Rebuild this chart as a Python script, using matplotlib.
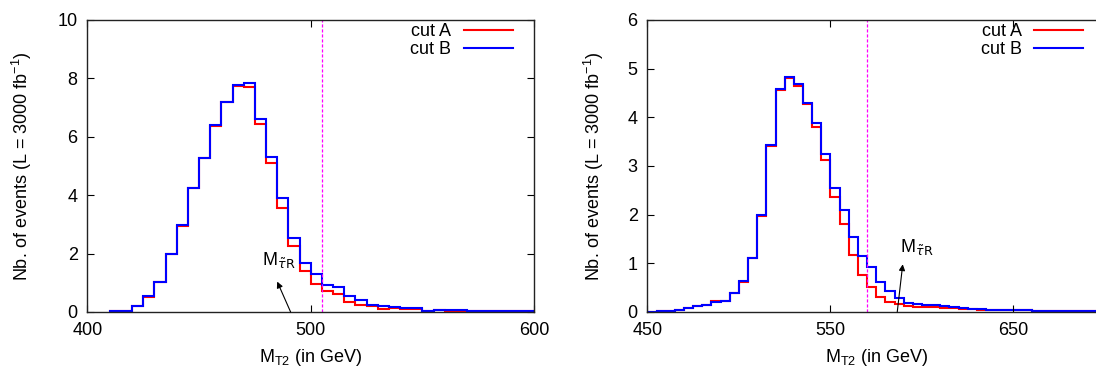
import numpy as np
import matplotlib
matplotlib.use("Agg")
import matplotlib.pyplot as plt

plt.rcParams['font.family'] = ['Liberation Sans', 'DejaVu Sans']
plt.rcParams['mathtext.fontset'] = 'custom'
plt.rcParams['mathtext.rm'] = 'Liberation Sans'
plt.rcParams['mathtext.it'] = 'Liberation Sans:italic'
plt.rcParams['mathtext.sf'] = 'Liberation Sans'

# left panel: M_T2 bins of 5 GeV from 410 to 600
left_edges = np.arange(410, 601, 5)
left_cutA = [0.02, 0.05, 0.19, 0.53, 1.02, 1.98, 2.96, 4.25, 5.28, 6.38,
             7.18, 7.73, 7.70, 6.43, 5.09, 3.57, 2.26, 1.40, 0.97, 0.71,
             0.61, 0.34, 0.24, 0.19, 0.11, 0.15, 0.11, 0.10, 0.05, 0.06,
             0.05, 0.04, 0.03, 0.03, 0.03, 0.03, 0.03, 0.03]
left_cutB = [0.02, 0.05, 0.20, 0.54, 1.03, 1.99, 2.97, 4.26, 5.29, 6.41,
             7.20, 7.79, 7.85, 6.62, 5.32, 3.91, 2.55, 1.69, 1.30, 0.91,
             0.86, 0.55, 0.40, 0.25, 0.22, 0.17, 0.15, 0.14, 0.05, 0.07,
             0.07, 0.07, 0.03, 0.03, 0.03, 0.03, 0.03, 0.03]
left_cut = 505
left_arrow = ((491, 0.0), (485, 1.04))
left_text = (478, 1.6)

# right panel: bins of 5 GeV from 450 to 700
right_edges = np.arange(450, 701, 5)
right_cutA = [0.01, 0.02, 0.03, 0.05, 0.09, 0.13, 0.15, 0.22, 0.22, 0.39,
              0.61, 1.11, 1.97, 3.41, 4.56, 4.81, 4.65, 4.27, 3.81, 3.13,
              2.37, 1.80, 1.18, 0.77, 0.52, 0.30, 0.21, 0.16, 0.12, 0.11,
              0.11, 0.10, 0.09, 0.08, 0.07, 0.06, 0.05, 0.04, 0.04, 0.04,
              0.04, 0.04, 0.03, 0.03, 0.03, 0.03, 0.03, 0.02, 0.02, 0.02]
right_cutB = [0.01, 0.02, 0.03, 0.05, 0.09, 0.13, 0.15, 0.20, 0.22, 0.39,
              0.63, 1.11, 1.99, 3.44, 4.58, 4.83, 4.68, 4.30, 3.89, 3.25,
              2.54, 2.09, 1.54, 1.16, 0.92, 0.61, 0.43, 0.28, 0.19, 0.16,
              0.15, 0.14, 0.12, 0.10, 0.08, 0.07, 0.06, 0.05, 0.04, 0.04,
              0.04, 0.04, 0.03, 0.03, 0.03, 0.03, 0.03, 0.02, 0.02, 0.02]
right_cut = 570
right_arrow = ((586.5, 0.0), (589.5, 0.98))
right_text = (588, 1.23)

ylab = 'Nb. of events (L = 3000 fb$^{\\mathregular{-1}}$)'
xlab = 'M$_{\\mathregular{T2}}$ (in GeV)'
stau = 'M$_{\\tilde{\\tau}}$$_{\\mathrm{R}}$'
fs = 13

fig = plt.figure(figsize=(10.96, 3.69), dpi=100)
ax1 = fig.add_axes([0.0797, 0.1545, 0.4076, 0.7913])
ax2 = fig.add_axes([0.5907, 0.1545, 0.4175, 0.7913])

panels = [
    (ax1, left_edges, left_cutA, left_cutB, left_cut, left_arrow, left_text,
     (400, 600), (0, 10), [400, 500, 600], range(0, 11, 2), -0.12),
    (ax2, right_edges, right_cutA, right_cutB, right_cut, right_arrow, right_text,
     (450, 700), (0, 6), [450, 550, 650], range(0, 7), -0.09),
]

for ax, edges, a, b, cut, arr, txt, xl, yl, xt, yt, ylx in panels:
    ax.stairs(a, edges, color='#ff0000', lw=1.5, label='cut A')
    ax.stairs(b, edges, color='#0000ff', lw=1.5, label='cut B')
    ax.axvline(cut, color='#ff00ff', lw=0.9, dashes=(2.5, 1.5))
    ax.annotate('', xy=arr[1], xytext=arr[0],
                arrowprops=dict(arrowstyle='-|>', lw=0.8, color='black',
                                mutation_scale=9, shrinkA=0, shrinkB=0))
    ax.text(txt[0], txt[1], stau, fontsize=fs, ha='left', va='baseline',
            math_fontfamily='dejavusans')
    ax.set_xlim(*xl)
    ax.set_ylim(*yl)
    ax.set_xticks(xt)
    ax.set_yticks(list(yt))
    ax.tick_params(direction='in', top=True, right=True, length=5, width=0.8,
                   labelsize=fs)
    ax.tick_params(axis='x', pad=7)
    ax.tick_params(axis='y', pad=7)
    for s in ax.spines.values():
        s.set_linewidth(1.0)
        s.set_color('#222222')
    ax.set_xlabel(xlab, fontsize=fs)
    ax.xaxis.set_label_coords(0.5, -0.12)
    ax.set_ylabel(ylab, fontsize=fs)
    ax.yaxis.set_label_coords(ylx, 0.5)
    ax.legend(loc='upper right', bbox_to_anchor=(0.952, 0.99), frameon=False,
              markerfirst=False, fontsize=fs, handlelength=2.7,
              handletextpad=0.7, labelspacing=0.05, borderpad=0,
              borderaxespad=0)

fig.savefig('out.png', dpi=100)
